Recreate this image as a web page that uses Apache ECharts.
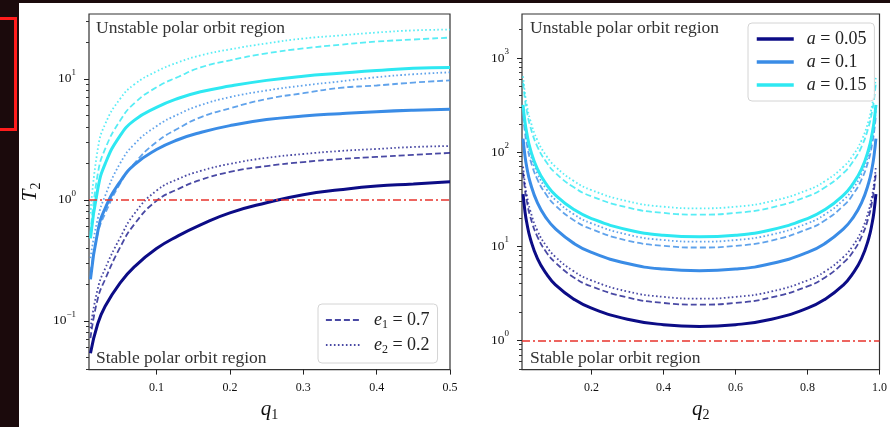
<!DOCTYPE html>
<html>
<head>
<meta charset="utf-8">
<script src="https://cdn.jsdelivr.net/npm/echarts@6/dist/echarts.min.js"></script>
<style>
html, body { margin: 0; padding: 0; }
#page { position: relative; width: 890px; height: 427px; background: #1b0a0c; overflow: hidden; }
#panel { position: absolute; left: 19px; top: 3px; width: 871px; height: 424px; background: #fff; }
#mark { position: absolute; left: -10px; top: 17px; width: 21px; height: 108px; border: 3px solid #ff1c1c; }
#main { position: absolute; left: 0; top: 0; width: 890px; height: 427px; }
</style>
</head>
<body>
<div id="page">
  <div id="panel"></div>
  <div id="mark"></div>
  <div id="main"></div>
</div>
<script>
// left panel: T2 against q1
var q1 = [0.01, 0.02, 0.03, 0.05, 0.07, 0.1, 0.13, 0.16, 0.2, 0.25, 0.3, 0.35, 0.4, 0.45, 0.5];
var l_navy     = [0.054, 0.095, 0.132, 0.204, 0.28, 0.395, 0.505, 0.62, 0.78, 0.945, 1.1, 1.21, 1.30, 1.35, 1.41];
var l_navyDash = [0.072, 0.153, 0.22, 0.40, 0.63, 0.98, 1.23, 1.46, 1.70, 1.90, 2.05, 2.17, 2.26, 2.35, 2.44];
var l_navyDot  = [0.087, 0.185, 0.27, 0.48, 0.77, 1.19, 1.49, 1.73, 1.98, 2.22, 2.39, 2.53, 2.63, 2.73, 2.78];
var l_blue     = [0.22, 0.55, 0.85, 1.4, 1.95, 2.6, 3.15, 3.6, 4.1, 4.6, 4.92, 5.15, 5.35, 5.5, 5.6];
var l_blueDash = [0.25, 0.53, 0.77, 1.35, 2.0, 3.0, 3.9, 4.8, 5.7, 6.8, 7.6, 8.4, 8.8, 9.3, 9.7];
var l_blueDot  = [0.33, 0.70, 1.08, 1.98, 2.89, 4.06, 5.1, 6.05, 7.05, 8.0, 8.8, 9.5, 10.3, 10.9, 11.3];
var l_cyan     = [0.48, 1.23, 1.98, 3.36, 4.55, 5.8, 6.9, 7.8, 8.7, 9.7, 10.5, 11.1, 11.7, 12.2, 12.4];
var l_cyanDash = [0.53, 1.64, 2.63, 4.47, 6.3, 8.5, 10.4, 12.4, 14.2, 16.2, 17.8, 19.1, 20.3, 21.1, 21.9];
var l_cyanDot  = [0.77, 2.63, 4.22, 6.78, 9.0, 11.5, 13.7, 15.6, 17.5, 19.6, 21.5, 22.8, 24.1, 25.1, 25.5];

// right panel: T2 against q2
var q2 = [0.01, 0.015, 0.02, 0.03, 0.05, 0.075, 0.1, 0.15, 0.2, 0.3, 0.4, 0.5, 0.6, 0.7, 0.8, 0.85, 0.9, 0.925, 0.95, 0.97, 0.98, 0.985, 0.99];
var r_navy     = [35.7, 23.8, 18.0, 12.1, 7.4, 5.1, 3.9, 2.76, 2.2, 1.68, 1.47, 1.41, 1.47, 1.68, 2.2, 2.76, 3.9, 5.1, 7.4, 12.1, 18.0, 23.8, 35.7];
var r_navyDash = [60.6, 40.6, 30.7, 20.6, 12.6, 8.6, 6.7, 4.7, 3.75, 2.86, 2.5, 2.4, 2.5, 2.86, 3.75, 4.7, 6.7, 8.6, 12.6, 20.6, 30.7, 40.6, 60.6];
var r_navyDot  = [70, 47, 35.5, 23.9, 14.6, 10.0, 7.7, 5.45, 4.34, 3.31, 2.9, 2.78, 2.9, 3.31, 4.34, 5.45, 7.7, 10.0, 14.6, 23.9, 35.5, 47, 70];
var r_blue     = [139, 93, 70, 47.3, 28.9, 19.8, 15.3, 10.8, 8.6, 6.55, 5.72, 5.5, 5.72, 6.55, 8.6, 10.8, 15.3, 19.8, 28.9, 47.3, 70, 93, 139];
var r_blueDash = [245, 164, 124, 83, 51, 35, 27, 19.0, 15.2, 11.5, 10.1, 9.7, 10.1, 11.5, 15.2, 19.0, 27, 35, 51, 83, 124, 164, 245];
var r_blueDot  = [283, 189, 143, 96, 59, 40.3, 31.1, 22.0, 17.5, 13.3, 11.65, 11.2, 11.65, 13.3, 17.5, 22.0, 31.1, 40.3, 59, 96, 143, 189, 283];
var r_cyan     = [318, 213, 161, 108, 66, 45.4, 35, 24.7, 19.7, 15.0, 13.1, 12.6, 13.1, 15.0, 19.7, 24.7, 35, 45.4, 66, 108, 161, 213, 318];
var r_cyanDash = [548, 367, 278, 187, 114, 78, 60, 42.5, 33.9, 25.8, 22.6, 21.7, 22.6, 25.8, 33.9, 42.5, 60, 78, 114, 187, 278, 367, 548];
var r_cyanDot  = [639, 428, 324, 218, 133, 91, 70, 49.6, 39.5, 30.1, 26.3, 25.3, 26.3, 30.1, 39.5, 49.6, 70, 91, 133, 218, 324, 428, 639];

var q1Ticks = [0.1, 0.2, 0.3, 0.4, 0.5];
var q2Ticks = [0.2, 0.4, 0.6, 0.8, 1.0];
var leftMajor = [0.1, 1, 10];
var leftMinor = [0.04, 0.05, 0.06, 0.07, 0.08, 0.09, 0.2, 0.3, 0.4, 0.5, 0.6, 0.7, 0.8, 0.9, 2, 3, 4, 5, 6, 7, 8, 9, 20, 30];
var rightMajor = [1, 10, 100, 1000];
var rightMinor = [0.5, 0.6, 0.7, 0.8, 0.9, 2, 3, 4, 5, 6, 7, 8, 9, 20, 30, 40, 50, 60, 70, 80, 90,
  200, 300, 400, 500, 600, 700, 800, 900, 2000];
var threshold = 1;

var NAVY = '#0c0c86', BLUE = '#3a8ce6', CYAN = '#2ee8f2';
var SERIF = '"Liberation Serif", "DejaVu Serif", serif';
var DASH = [6, 3], DOT = [1.6, 2.4];

function line(name, xs, ys, gi, color, width, dash, op) {
  return {
    name: name, type: 'line', xAxisIndex: gi, yAxisIndex: gi,
    data: xs.map(function (x, i) { return [x, ys[i]]; }),
    symbol: 'none', showSymbol: false, smooth: 0.5, silent: true,
    lineStyle: { color: color, width: width, type: dash, opacity: op },
    itemStyle: { color: color }
  };
}

function powLabel(v) {
  var e = Math.round(Math.log10(v));
  return '{b|10}{e|' + (e < 0 ? '\u2212' + (-e) : e) + '}';
}

var yLabelRich = {
  b: { fontFamily: SERIF, fontSize: 13.5, color: '#111', lineHeight: 22 },
  e: { fontFamily: SERIF, fontSize: 9, color: '#111', lineHeight: 10, verticalAlign: 'top' }
};

function xAxis(gi, min, max, ticks, nm) {
  return {
    type: 'value', gridIndex: gi, min: min, max: max,
    name: '{i|q}{s|' + nm + '}', nameLocation: 'middle', nameGap: 24,
    nameTextStyle: { rich: {
      i: { fontFamily: SERIF, fontStyle: 'italic', fontSize: 21, color: '#111', lineHeight: 26 },
      s: { fontFamily: SERIF, fontSize: 14, color: '#111', lineHeight: 14, verticalAlign: 'bottom' }
    } },
    axisLine: { show: false },
    axisTick: { length: 5, customValues: ticks, lineStyle: { color: '#222' } },
    axisLabel: { customValues: ticks, margin: 12, fontFamily: SERIF, fontSize: 12, color: '#111',
      formatter: function (v) { return v.toFixed(1); } },
    splitLine: { show: false }
  };
}

function yMajor(gi, min, max, ticks) {
  return {
    type: 'log', logBase: 10, gridIndex: gi, min: min, max: max, position: 'left',
    axisLine: { show: false },
    axisTick: { length: 5, customValues: ticks, lineStyle: { color: '#222' } },
    axisLabel: { customValues: ticks, margin: 13, formatter: powLabel, rich: yLabelRich },
    splitLine: { show: false }
  };
}

function yMinor(gi, min, max, ticks) {
  return {
    type: 'log', logBase: 10, gridIndex: gi, min: min, max: max, position: 'left',
    axisLine: { show: false },
    axisTick: { length: 3, customValues: ticks, lineStyle: { color: '#333' } },
    axisLabel: { show: false },
    splitLine: { show: false }
  };
}

var redLine = {
  silent: true, symbol: 'none', label: { show: false },
  lineStyle: { color: '#e8332c', width: 1.7, type: [8, 3, 2, 3], opacity: 1 },
  data: [{ yAxis: threshold }]
};

var leftY = yMajor(0, 0.0395, 34.3, leftMajor);
leftY.name = '{i|T}{s|2}';
leftY.nameLocation = 'middle';
leftY.nameGap = 46;
leftY.nameTextStyle = { rich: {
  i: { fontFamily: SERIF, fontStyle: 'italic', fontSize: 21, color: '#111', lineHeight: 26 },
  s: { fontFamily: SERIF, fontSize: 14, color: '#111', lineHeight: 14, verticalAlign: 'bottom' }
} };

var series = [
  line('L-navy', q1, l_navy, 0, NAVY, 3, 'solid', 1),
  line('e1', q1, l_navyDash, 0, NAVY, 1.8, DASH, 0.75),
  line('e2', q1, l_navyDot, 0, NAVY, 1.8, DOT, 0.75),
  line('L-blue', q1, l_blue, 0, BLUE, 3, 'solid', 1),
  line('L-blueDash', q1, l_blueDash, 0, BLUE, 1.8, DASH, 0.8),
  line('L-blueDot', q1, l_blueDot, 0, BLUE, 1.8, DOT, 0.8),
  line('L-cyan', q1, l_cyan, 0, CYAN, 3, 'solid', 1),
  line('L-cyanDash', q1, l_cyanDash, 0, CYAN, 1.8, DASH, 0.8),
  line('L-cyanDot', q1, l_cyanDot, 0, CYAN, 1.8, DOT, 0.8),
  line('a1', q2, r_navy, 1, NAVY, 3, 'solid', 1),
  line('R-navyDash', q2, r_navyDash, 1, NAVY, 1.8, DASH, 0.75),
  line('R-navyDot', q2, r_navyDot, 1, NAVY, 1.8, DOT, 0.75),
  line('a2', q2, r_blue, 1, BLUE, 3, 'solid', 1),
  line('R-blueDash', q2, r_blueDash, 1, BLUE, 1.8, DASH, 0.8),
  line('R-blueDot', q2, r_blueDot, 1, BLUE, 1.8, DOT, 0.8),
  line('a3', q2, r_cyan, 1, CYAN, 3, 'solid', 1),
  line('R-cyanDash', q2, r_cyanDash, 1, CYAN, 1.8, DASH, 0.8),
  line('R-cyanDot', q2, r_cyanDot, 1, CYAN, 1.8, DOT, 0.8)
];
series[0].markLine = redLine;
series[9].markLine = redLine;

var legendRich = {
  i: { fontFamily: SERIF, fontStyle: 'italic', fontSize: 18, color: '#222', lineHeight: 22 },
  s: { fontFamily: SERIF, fontSize: 12, color: '#222', lineHeight: 12, verticalAlign: 'bottom' },
  t: { fontFamily: SERIF, fontSize: 18, color: '#222', lineHeight: 22 }
};
var legendText = {
  e1: '{i|e}{s|1}{t| = 0.7}', e2: '{i|e}{s|2}{t| = 0.2}',
  a1: '{i|a}{t| = 0.05}', a2: '{i|a}{t| = 0.1}', a3: '{i|a}{t| = 0.15}'
};
function legendFmt(n) { return legendText[n]; }

function legendBox(names, left, top, w, lw) {
  return {
    data: names, orient: 'vertical', left: left, top: top,
    itemWidth: w, itemHeight: 14, itemGap: 5, padding: [7, 8, 7, 7],
    backgroundColor: 'rgba(255,255,255,0.85)', borderColor: '#d4d4d4', borderWidth: 1, borderRadius: 4,
    itemStyle: { opacity: 0 }, lineStyle: { width: lw },
    formatter: legendFmt, textStyle: { rich: legendRich, padding: [0, 0, 0, 8] }, selectedMode: false
  };
}

var chart = echarts.init(document.getElementById('main'), null, { renderer: 'canvas' });
chart.setOption({
  animation: false,
  backgroundColor: 'transparent',
  grid: [
    { left: 89, top: 14, width: 361, height: 357, show: true, borderColor: '#333', borderWidth: 1.2, backgroundColor: 'transparent' },
    { left: 522, top: 14, width: 361, height: 357, show: true, borderColor: '#333', borderWidth: 1.2, backgroundColor: 'transparent' }
  ],
  xAxis: [xAxis(0, 0.008, 0.5, q1Ticks, '1'), xAxis(1, 0.007, 1.0, q2Ticks, '2')],
  yAxis: [leftY, yMajor(1, 0.49, 2930, rightMajor), yMinor(0, 0.0395, 34.3, leftMinor), yMinor(1, 0.49, 2930, rightMinor)],
  legend: [legendBox(['e1', 'e2'], 318, 304, 35, 1.8), legendBox(['a1', 'a2', 'a3'], 748, 23, 37, 3.5)],
  graphic: [
    { type: 'text', x: 96, y: 28, style: { text: 'Unstable polar orbit region', font: '17.5px ' + SERIF, fill: '#333', verticalAlign: 'middle' } },
    { type: 'text', x: 96, y: 358, style: { text: 'Stable polar orbit region', font: '17.5px ' + SERIF, fill: '#333', verticalAlign: 'middle' } },
    { type: 'text', x: 530, y: 28, style: { text: 'Unstable polar orbit region', font: '17.5px ' + SERIF, fill: '#333', verticalAlign: 'middle' } },
    { type: 'text', x: 530, y: 358, style: { text: 'Stable polar orbit region', font: '17.5px ' + SERIF, fill: '#333', verticalAlign: 'middle' } }
  ],
  series: series
});
</script>
</body>
</html>
